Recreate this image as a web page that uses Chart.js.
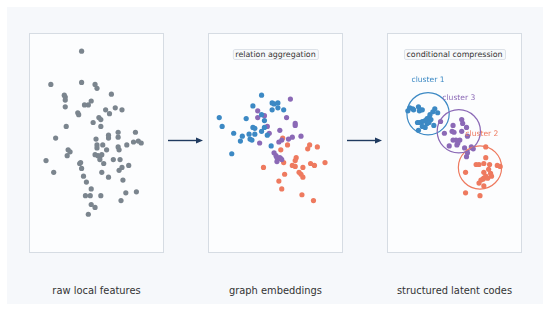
<!DOCTYPE html>
<html lang="en">
<head>
  <meta charset="UTF-8">
  <title>Feature pipeline</title>
  <script src="https://cdn.jsdelivr.net/npm/chart.js"></script>
  <style>
    html, body {
      margin: 0;
      padding: 0;
      background: #ffffff;
      width: 550px;
      height: 311px;
      overflow: hidden;
      font-family: "DejaVu Sans", sans-serif;
    }
    .stage {
      position: absolute;
      left: 7px;
      top: 7px;
      width: 536px;
      height: 297px;
      background: #f6f8fb;
    }
    .panel {
      position: absolute;
      top: 33px;
      width: 135px;
      height: 220px;
      box-sizing: border-box;
      border: 1px solid #d6dce3;
      background: #fcfdfe;
    }
    canvas.plot {
      position: absolute;
      top: 33px;
    }
    .title {
      position: absolute;
      top: 49px;
      transform: translateX(-50%);
      font-size: 7.9px;
      line-height: 9px;
      color: #333;
      padding: 0 2px;
      background: #f7f9fb;
      border: 1px solid #dde2e8;
      border-radius: 2px;
      white-space: nowrap;
    }
    .caption {
      position: absolute;
      top: 285px;
      transform: translateX(-50%);
      font-size: 9.9px;
      color: #333;
      white-space: nowrap;
    }
    svg.arrows {
      position: absolute;
      left: 0;
      top: 0;
    }
  </style>
</head>
<body>
  <div class="stage"></div>
  <div class="panel" style="left:29px"></div>
  <div class="panel" style="left:208px"></div>
  <div class="panel" style="left:387px"></div>
  <canvas class="plot" id="rawChart" width="135" height="220" style="left:29px"></canvas>
  <canvas class="plot" id="embChart" width="135" height="220" style="left:208px"></canvas>
  <canvas class="plot" id="codeChart" width="135" height="220" style="left:387px"></canvas>
  <div id="labels"></div>
  <svg class="arrows" width="550" height="311">
    <line x1="168" y1="140.5" x2="198" y2="140.5" stroke="#1f3a5f" stroke-width="1.4"/>
    <polygon points="203,140.5 196,137.5 196,143.5" fill="#1f3a5f"/>
    <line x1="347" y1="140.5" x2="377" y2="140.5" stroke="#1f3a5f" stroke-width="1.4"/>
    <polygon points="382,140.5 375,137.5 375,143.5" fill="#1f3a5f"/>
  </svg>

  <script>
    // panel-local coordinates (x from the left edge, y from the top edge)
    const rawPoints = [
      [52,16],[20,50],[52,48],[66,50],[68,54],[83,60],[34,61],[35,63],[35,66],[35,73],
      [55,71],[59,71],[62,67],[77,76],[81,80],[87,74],[94,76],[48,79],[49,81],[70,84],
      [72,86],[64,89],[72,93],[36,93],[25,105],[67,106],[80,102],[80,105],[90,99],[90,104],
      [108,99],[106,109],[111,108],[114,110],[99,112],[90,114],[91,117],[68,112],[68,115],[74,112],
      [78,117],[38,117],[40,119],[37,123],[66,122],[69,123],[71,124],[73,122],[71,127],[85,127],
      [92,127],[15,128],[50,131],[51,130],[75,131],[101,133],[94,135],[91,138],[23,140],[52,136],
      [73,140],[54,144],[80,145],[95,148],[57,150],[62,157],[98,161],[109,160],[56,164],[61,164],
      [72,164],[93,169],[62,173],[66,176],[59,183]
    ];

    const embBlue = [
      [53,61],[44,72],[64,69],[66,70],[70,69],[64,76],[70,74],[76,76],[53,81],[56,87],
      [37,85],[9,84],[12,93],[44,94],[46,95],[56,94],[53,98],[24,100],[33,103],[40,101],
      [46,101],[41,106],[43,107],[31,108],[59,102],[63,113],[22,121]
    ];
    const embPurple = [
      [83,65],[49,77],[56,82],[49,84],[79,84],[59,93],[88,90],[88,92],[72,97],[61,100],
      [51,110],[85,104],[81,106],[74,107],[71,109],[94,103],[66,120],[68,123],[69,125],[72,125],
      [73,126],[69,129],[74,127]
    ];
    const embOrange = [
      [75,105],[80,112],[73,117],[103,112],[111,114],[101,116],[89,125],[88,128],[76,130],[55,135],
      [85,133],[88,134],[96,135],[104,131],[108,133],[119,130],[92,140],[94,142],[96,145],[77,142],
      [71,149],[74,157],[95,163],[107,169]
    ];

    const codeBlue = [
      [19,77],[21,74],[24,75],[25,76],[30,73],[32,76],[34,76],[31,77],[47,75],[50,79],
      [45,78],[42,81],[41,84],[39,85],[43,86],[37,87],[34,88],[31,89],[29,89],[39,90],
      [46,92],[37,94],[34,93],[30,97],[41,89]
    ];
    const codePurple = [
      [53,88],[75,86],[76,90],[80,94],[57,100],[65,98],[67,99],[66,92],[75,98],[81,103],
      [73,107],[69,107],[71,110],[66,107],[62,113],[70,112],[78,115],[87,116],[85,114],[81,120],
      [80,124]
    ];
    const codeOrange = [
      [100,114],[100,125],[90,132],[93,132],[98,131],[104,132],[112,133],[115,134],[103,137],[79,140],
      [98,140],[105,141],[100,144],[98,146],[97,147],[95,148],[93,151],[98,154],[79,161],[94,164],
      [106,144],[102,146]
    ];

    const clusterNames = ['cluster 1', 'cluster 2', 'cluster 3'];
    const clusterCenters = [[40,80], [94,135], [72,98]];
    const clusterRadius = [22, 22.5, 22.5];
    const clusterLabelPos = [[40,46], [96,101], [72,64]];

    const panelTitles = ['', 'relation aggregation', 'conditional compression'];
    const panelCaptions = ['raw local features', 'graph embeddings', 'structured latent codes'];

    const GRAY = '#7b858e';
    const BLUE = '#3c89c4';
    const PURPLE = '#8b69b6';
    const ORANGE = '#ee7a5f';
    const clusterColors = [BLUE, ORANGE, PURPLE];

    const toXY = pts => pts.map(p => ({ x: p[0], y: p[1] }));

    function dataset(pts, color) {
      return {
        data: toXY(pts),
        backgroundColor: color,
        borderWidth: 0,
        pointRadius: 2.6,
        pointHoverRadius: 2.6
      };
    }

    function baseOptions() {
      return {
        responsive: false,
        animation: false,
        layout: { padding: 0 },
        plugins: { legend: { display: false }, tooltip: { enabled: false } },
        scales: {
          x: { type: 'linear', min: 0, max: 135, display: false },
          y: { type: 'linear', min: 0, max: 220, reverse: true, display: false }
        }
      };
    }

    // circles and labels around the clusters, placed through the scales
    const clusterPlugin = {
      id: 'clusters',
      afterDatasetsDraw(chart) {
        const ctx = chart.ctx;
        const xs = chart.scales.x, ys = chart.scales.y;
        ctx.save();
        clusterCenters.forEach((c, i) => {
          const cx = xs.getPixelForValue(c[0]);
          const cy = ys.getPixelForValue(c[1]);
          const r = xs.getPixelForValue(c[0] + clusterRadius[i]) - cx;
          ctx.beginPath();
          ctx.arc(cx, cy, r, 0, Math.PI * 2);
          ctx.strokeStyle = clusterColors[i];
          ctx.lineWidth = 1.2;
          ctx.stroke();

          const lp = clusterLabelPos[i];
          ctx.font = '7.6px "DejaVu Sans"';
          ctx.fillStyle = clusterColors[i];
          ctx.textAlign = 'center';
          ctx.textBaseline = 'middle';
          ctx.fillText(clusterNames[i], xs.getPixelForValue(lp[0]), ys.getPixelForValue(lp[1]));
        });
        ctx.restore();
      }
    };

    new Chart(document.getElementById('rawChart'), {
      type: 'scatter',
      data: { datasets: [dataset(rawPoints, GRAY)] },
      options: baseOptions()
    });

    new Chart(document.getElementById('embChart'), {
      type: 'scatter',
      data: { datasets: [dataset(embBlue, BLUE), dataset(embPurple, PURPLE), dataset(embOrange, ORANGE)] },
      options: baseOptions()
    });

    new Chart(document.getElementById('codeChart'), {
      type: 'scatter',
      data: { datasets: [dataset(codeBlue, BLUE), dataset(codePurple, PURPLE), dataset(codeOrange, ORANGE)] },
      options: baseOptions(),
      plugins: [clusterPlugin]
    });

    // panel titles and captions
    const panelLeft = [29, 208, 387];
    const labels = document.getElementById('labels');
    panelLeft.forEach((left, i) => {
      const mid = left + 67.5;
      if (panelTitles[i]) {
        const t = document.createElement('div');
        t.className = 'title';
        t.style.left = mid + 'px';
        t.textContent = panelTitles[i];
        labels.appendChild(t);
      }
      const c = document.createElement('div');
      c.className = 'caption';
      c.style.left = mid + 'px';
      c.textContent = panelCaptions[i];
      labels.appendChild(c);
    });
  </script>
</body>
</html>
